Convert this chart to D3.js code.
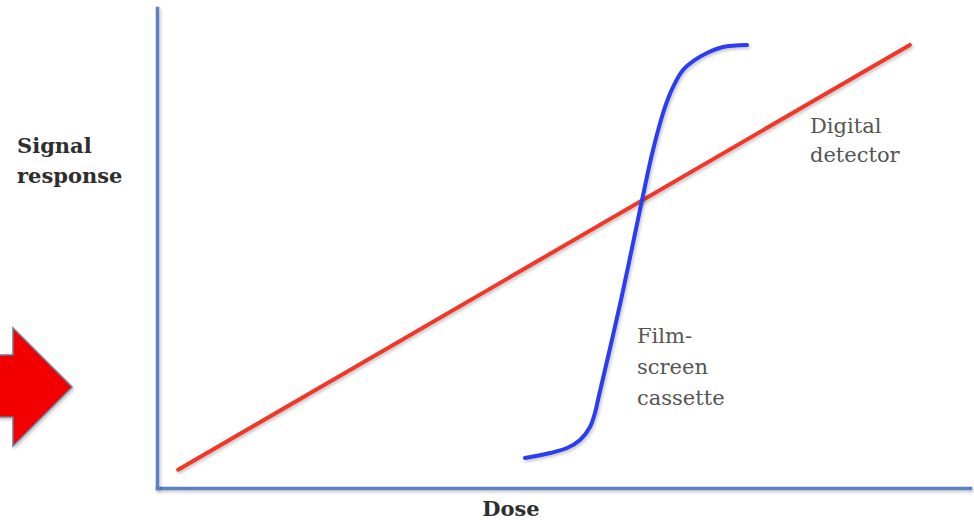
<!DOCTYPE html>
<html>
<head>
<meta charset="utf-8">
<script src="https://cdn.jsdelivr.net/npm/d3@7"></script>
<style>
  html, body { margin: 0; padding: 0; background: #fff; }
  svg { display: block; }
</style>
</head>
<body>
<svg id="chart" width="974" height="520"></svg>
<script>
// ---- data (dose 0-100, signal 0-100) ----
const digitalDose   = [2.6, 92.6];
const digitalSignal = [3.8, 92.3];

const filmDose   = [45.26, 48.34, 50.43, 52.03, 53.26, 53.87, 54.24, 57.07, 59.66, 61.01, 62.49, 63.47, 64.70, 66.17, 67.65, 69.62, 72.57];
const filmSignal = [6.25, 7.29, 8.33, 10.0, 12.71, 15.63, 18.33, 39.17, 60.0, 70.42, 79.38, 83.54, 87.08, 89.17, 90.63, 91.88, 92.29];

const yLabelLines   = ["Signal", "response"];
const xLabel        = "Dose";
const digitalLabel  = ["Digital", "detector"];
const filmLabel     = ["Film-", "screen", "cassette"];

// ---- layout ----
const svg = d3.select("#chart");
const x = d3.scaleLinear().domain([0, 100]).range([157, 970]);
const y = d3.scaleLinear().domain([0, 100]).range([488, 8]);

const defs = svg.append("defs");
const f = defs.append("filter").attr("id", "shadow")
  .attr("filterUnits", "userSpaceOnUse")
  .attr("x", -20).attr("y", -20).attr("width", 1020).attr("height", 560);
f.append("feDropShadow").attr("dx", 1.5).attr("dy", 2).attr("stdDeviation", 1.6)
  .attr("flood-color", "#000").attr("flood-opacity", 0.22);

// ---- red arrow at left (partially off-page) ----
const arrow = [[-5, 355], [13, 355], [13, 328], [72, 387], [13, 446], [13, 417], [-5, 417]];
svg.append("path")
  .attr("d", d3.line()(arrow) + "Z")
  .attr("fill", "#f20000")
  .attr("stroke", "#6f7894")
  .attr("stroke-width", 1.5)
  .attr("filter", "url(#shadow)");

// ---- axes (no ticks) ----
const axisColor = "#5b80c2";
const gx = svg.append("g").attr("transform", `translate(0,${y(0)})`)
  .attr("filter", "url(#shadow)")
  .call(d3.axisBottom(x).ticks(0).tickSizeOuter(0));
const gy = svg.append("g").attr("transform", `translate(${x(0)},0)`)
  .attr("filter", "url(#shadow)")
  .call(d3.axisLeft(y).ticks(0).tickSizeOuter(0));
[gx, gy].forEach(g => g.select(".domain")
  .attr("stroke", axisColor).attr("stroke-width", 3.5).attr("stroke-linecap", "square"));

// ---- series ----
const digital = digitalDose.map((d, i) => [d, digitalSignal[i]]);
const film = filmDose.map((d, i) => [d, filmSignal[i]]);

svg.append("path")
  .datum(digital)
  .attr("fill", "none")
  .attr("stroke", "#f0382a")
  .attr("stroke-width", 4)
  .attr("stroke-linecap", "round")
  .attr("filter", "url(#shadow)")
  .attr("d", d3.line().x(d => x(d[0])).y(d => y(d[1])));

svg.append("path")
  .datum(film)
  .attr("fill", "none")
  .attr("stroke", "#2b3df2")
  .attr("stroke-width", 4)
  .attr("stroke-linecap", "round")
  .attr("filter", "url(#shadow)")
  .attr("d", d3.line().curve(d3.curveCatmullRom.alpha(0.5)).x(d => x(d[0])).y(d => y(d[1])));

// ---- text ----
const serif = "'DejaVu Serif', 'Liberation Serif', serif";

svg.append("text")
  .attr("font-family", serif).attr("font-weight", "bold").attr("font-size", 21)
  .attr("fill", "#2e2e2e")
  .selectAll("tspan").data(yLabelLines).join("tspan")
  .attr("x", 17).attr("y", (d, i) => 153 + i * 30).text(d => d);

svg.append("text")
  .attr("font-family", serif).attr("font-weight", "bold").attr("font-size", 21)
  .attr("fill", "#2e2e2e").attr("text-anchor", "middle")
  .attr("x", 511).attr("y", 516).text(xLabel);

svg.append("text")
  .attr("font-family", serif).attr("font-size", 21)
  .attr("fill", "#555")
  .selectAll("tspan").data(digitalLabel).join("tspan")
  .attr("x", 810).attr("y", (d, i) => 133 + i * 29).text(d => d);

svg.append("text")
  .attr("font-family", serif).attr("font-size", 21)
  .attr("fill", "#555")
  .selectAll("tspan").data(filmLabel).join("tspan")
  .attr("x", 637).attr("y", (d, i) => 343 + i * 31).text(d => d);
</script>
</body>
</html>
